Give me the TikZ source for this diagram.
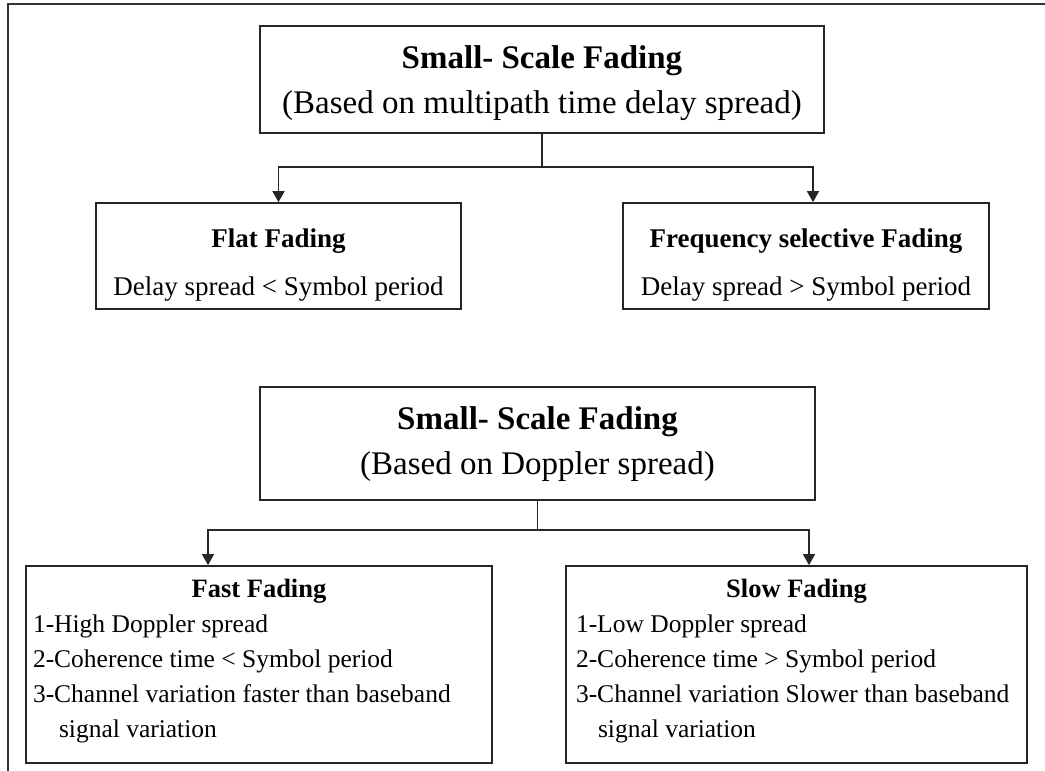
\documentclass[tikz,border=0pt]{standalone}
\usepackage{fontspec}
\setmainfont{Liberation Serif}
\usetikzlibrary{arrows.meta}
\begin{document}
\begin{tikzpicture}[x=1pt,y=-1pt,
  line/.style={draw=black!85, line width=1.5pt},
  box/.style={line, line width=1.7pt, rectangle, inner sep=0pt},
  headbox/.style={box, align=center, font=\fontsize{33}{45}\selectfont},
  midbox/.style={box, align=center, font=\fontsize{27}{48}\selectfont},
  listbox/.style={box, align=left, font=\fontsize{25.5}{35}\selectfont},
  arr/.style={line, -{Triangle[length=11pt,width=12pt]}},
  frame/.style={draw=black!80, line width=1.8pt}]
\useasboundingbox (0,0) rectangle (1045,771);

% open frame around the page
\draw[frame] (1060,4) -- (8,4) -- (8,790);

% classification by delay spread
\node[headbox, minimum width=564pt, minimum height=107pt] (top1) at (542,79.5)
  {\rule{0pt}{32pt}\textbf{Small- Scale Fading}\\(Based on multipath time delay spread)\rule[-10pt]{0pt}{10pt}};
\node[midbox, minimum width=365pt, minimum height=106pt] (flat) at (278.5,256)
  {\rule{0pt}{40pt}\textbf{Flat Fading}\\Delay spread < Symbol period\rule[-10pt]{0pt}{10pt}};
\node[midbox, minimum width=366pt, minimum height=106pt] (freq) at (806,256)
  {\rule{0pt}{40pt}\textbf{Frequency selective Fading}\\Delay spread > Symbol period\rule[-10pt]{0pt}{10pt}};

\draw[line] (top1.south) -- ++(0,33) coordinate (j1);
\draw[arr] (j1) -| (flat.north);
\draw[arr] (j1) -| ([xshift=7pt]freq.north);

% classification by Doppler spread
\node[headbox, minimum width=555pt, minimum height=113pt] (top2) at (537.5,443.5)
  {\rule{0pt}{26pt}\textbf{Small- Scale Fading}\\(Based on Doppler spread)\rule[-10pt]{0pt}{10pt}};
\node[listbox, inner xsep=7pt, minimum width=466pt, minimum height=197pt] (fast) at (259,664.5)
  {\rule{0pt}{25pt}\makebox[452pt][c]{\bfseries\fontsize{26.5}{35}\selectfont Fast Fading}\\
   1-High Doppler spread\\
   2-Coherence time < Symbol period\\
   3-Channel variation faster than baseband\\
   \hspace*{26pt}signal variation\rule[-20pt]{0pt}{20pt}};
\node[listbox, inner xsep=10pt, minimum width=461pt, minimum height=197pt] (slow) at (796.5,664.5)
  {\rule{0pt}{25pt}\makebox[441pt][c]{\bfseries\fontsize{26.5}{35}\selectfont Slow Fading}\\
   1-Low Doppler spread\\
   2-Coherence time > Symbol period\\
   3-Channel variation Slower than baseband\\
   \hspace*{22pt}signal variation\rule[-20pt]{0pt}{20pt}};

\draw[line] (top2.south) -- ++(0,29) coordinate (j2);
\draw[arr] (j2) -| ([xshift=-51pt]fast.north);
\draw[arr] (j2) -| ([xshift=12.5pt]slow.north);
\end{tikzpicture}
\end{document}
